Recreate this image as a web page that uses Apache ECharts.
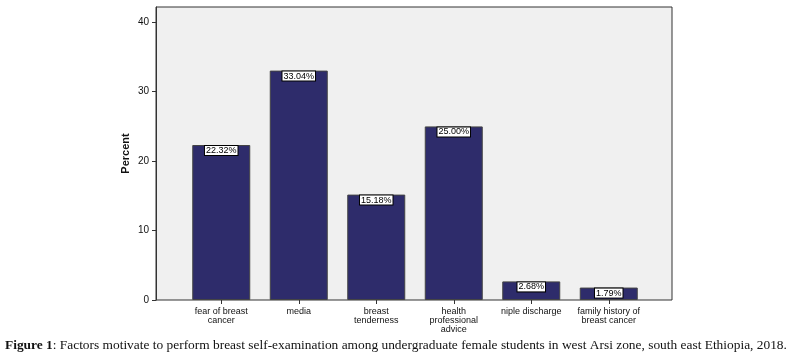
<!DOCTYPE html>
<html>
<head>
<meta charset="utf-8">
<script src="https://cdn.jsdelivr.net/npm/echarts@6/dist/echarts.min.js"></script>
<style>
  html, body { margin: 0; padding: 0; background: #fff; }
  #chart { width: 795px; height: 360px; }
</style>
</head>
<body>
<div id="chart"></div>
<script>
// data
const categories = ['fear of breast\ncancer', 'media', 'breast\ntenderness',
  'health\nprofessional\nadvice', 'niple discharge', 'family history of\nbreast cancer']
const percents = [22.32, 33.04, 15.18, 25.00, 2.68, 1.79]
const yTicks = [0, 10, 20, 30, 40]

const yMax = 42.2
const font = 'Liberation Sans, Arial, sans-serif'

const chart = echarts.init(document.getElementById('chart'), null, { renderer: 'canvas' })

const option = {
  animation: false,
  grid: [
    // frame + background
    { left: 156, top: 7, width: 516, height: 293, show: true, backgroundColor: '#f0f0f0',
      borderColor: '#333', borderWidth: 1 },
    // bars sit in a narrower band like SPSS does
    { left: 182.5, top: 7, width: 465, height: 293 }
  ],
  xAxis: [
    { gridIndex: 0, type: 'value', show: false, min: 0, max: 1 },
    {
      gridIndex: 1,
      type: 'category',
      data: categories,
      axisLine: { show: false },
      axisTick: { show: true, alignWithLabel: true, length: 4, lineStyle: { color: '#333' } },
      axisLabel: { interval: 0, fontFamily: font, fontSize: 9, lineHeight: 9, color: '#111', margin: 7 }
    }
  ],
  yAxis: [
    {
      gridIndex: 0,
      type: 'value',
      min: yTicks[0],
      max: yMax,
      name: 'Percent',
      nameLocation: 'middle',
      nameGap: 25,
      nameMoveOverlap: false,
      nameTextStyle: { fontFamily: font, fontSize: 11, fontWeight: 'bold', color: '#111' },
      axisLine: { show: true, lineStyle: { color: '#333' } },
      axisTick: { show: true, length: 4, customValues: yTicks, lineStyle: { color: '#333' } },
      splitLine: { show: false },
      axisLabel: { customValues: yTicks, fontFamily: font, fontSize: 10, color: '#111', margin: 7 }
    },
    { gridIndex: 1, type: 'value', min: 0, max: yMax, show: false }
  ],
  series: [
    {
      type: 'bar',
      xAxisIndex: 1,
      yAxisIndex: 1,
      data: percents,
      barWidth: 58,
      itemStyle: { color: '#2e2c6b', borderColor: '#444', borderWidth: 1 },
      label: {
        show: true,
        position: 'insideTop',
        distance: 1,
        formatter: p => p.value.toFixed(2) + '%',
        fontFamily: font,
        fontSize: 9,
        color: '#000',
        backgroundColor: '#fff',
        borderColor: '#000',
        borderWidth: 1,
        padding: [0, 1]
      }
    }
  ],
  graphic: [
    {
      type: 'text',
      left: 5,
      top: 339,
      style: {
        text: '{b|Figure 1}: Factors motivate to perform breast self-examination among undergraduate female students in west Arsi zone, south east Ethiopia, 2018.',
        fontFamily: 'Liberation Serif, serif',
        fontSize: 13.4,
        fill: '#111',
        rich: { b: { fontFamily: 'Liberation Serif, serif', fontSize: 13.4, fontWeight: 'bold', fill: '#111' } }
      }
    }
  ]
}

chart.setOption(option)
</script>
</body>
</html>
